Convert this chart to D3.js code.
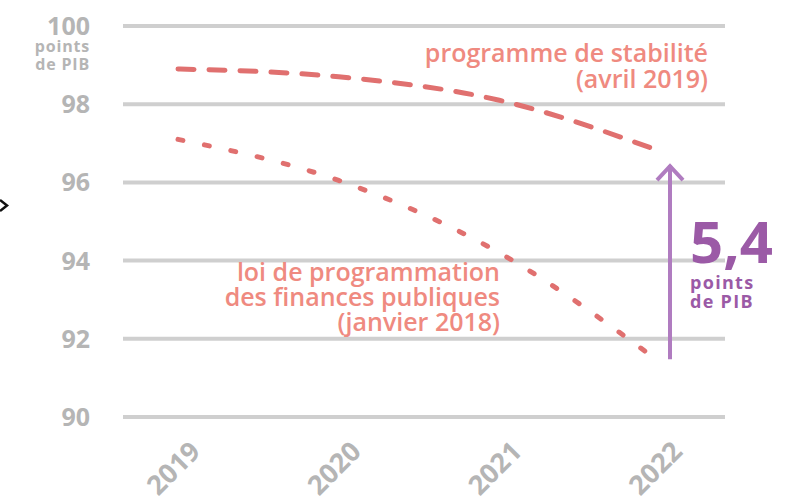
<!DOCTYPE html>
<html>
<head>
<meta charset="utf-8">
<script src="https://cdn.jsdelivr.net/npm/d3@7"></script>
<style>
  body { margin: 0; background: #fff; }
  svg { display: block; font-family: 'Open Sans', sans-serif; }
</style>
</head>
<body>
<div id="chart"></div>
<script>
// Data
const years = ['2019', '2020', '2021', '2022'];
const stabilite = [98.9, 98.7, 98.1, 96.8];   // programme de stabilité (avril 2019)
const lpfp = [97.1, 96.05, 94.2, 91.4];       // loi de programmation (janvier 2018)
const yTicks = [90, 92, 94, 96, 98, 100];

const width = 808, height = 497;

const svg = d3.select('#chart')
  .append('svg')
    .attr('width', width)
    .attr('height', height);

const x = d3.scalePoint()
  .domain(years)
  .range([178, 660]);

const y = d3.scaleLinear()
  .domain([90, 100])
  .range([417, 26]);

const grey = '#b5b5b5';

// grid lines
svg.append('g')
  .selectAll('line')
  .data(yTicks)
  .enter().append('line')
    .attr('x1', 123)
    .attr('x2', 725)
    .attr('y1', d => y(d))
    .attr('y2', d => y(d))
    .attr('stroke', '#cfcfcf')
    .attr('stroke-width', 4);

// y labels
svg.append('g')
  .selectAll('text')
  .data(yTicks)
  .enter().append('text')
    .attr('x', 90)
    .attr('y', d => y(d) + 9)
    .attr('text-anchor', 'end')
    .attr('font-size', 25)
    .attr('font-weight', 700)
    .attr('fill', grey)
    .text(d => d);

svg.append('text')
  .attr('x', 90).attr('y', 52)
  .attr('text-anchor', 'end')
  .attr('font-size', 16).attr('font-weight', 700)
  .attr('letter-spacing', 0.8)
  .attr('fill', grey)
  .text('points');
svg.append('text')
  .attr('x', 90).attr('y', 70)
  .attr('text-anchor', 'end')
  .attr('font-size', 16).attr('font-weight', 700)
  .attr('letter-spacing', 0.8)
  .attr('fill', grey)
  .text('de PIB');

// x labels
svg.append('g')
  .selectAll('text')
  .data(years)
  .enter().append('text')
    .attr('transform', d => 'translate(' + (x(d) + 24) + ',453) rotate(-45)')
    .attr('text-anchor', 'end')
    .attr('font-size', 27)
    .attr('font-weight', 700)
    .attr('fill', grey)
    .text(d => d);

// lines
const line = d3.line()
  .x((d, i) => x(years[i]))
  .y(d => y(d))
  .curve(d3.curveMonotoneX);

svg.append('path')
  .attr('d', line(stabilite))
  .attr('fill', 'none')
  .attr('stroke', '#e0706f')
  .attr('stroke-width', 5)
  .attr('stroke-linecap', 'round')
  .attr('stroke-dasharray', '16,15');

svg.append('path')
  .attr('d', line(lpfp))
  .attr('fill', 'none')
  .attr('stroke', '#e0706f')
  .attr('stroke-width', 5)
  .attr('stroke-linecap', 'round')
  .attr('stroke-dasharray', '5,22');

// series labels
const labelColor = '#ef8a80';
[['programme de stabilité', 62], ['(avril 2019)', 88]].forEach(function(t) {
  svg.append('text')
    .attr('x', 708).attr('y', t[1])
    .attr('text-anchor', 'end')
    .attr('font-size', 25).attr('font-weight', 600)
    .attr('fill', labelColor)
    .text(t[0]);
});
[['loi de programmation', 281], ['des finances publiques', 306], ['(janvier 2018)', 331]].forEach(function(t) {
  svg.append('text')
    .attr('x', 500).attr('y', t[1])
    .attr('text-anchor', 'end')
    .attr('font-size', 25).attr('font-weight', 600)
    .attr('fill', labelColor)
    .text(t[0]);
});

// gap arrow
const arrowX = x('2022') + 10;
const arrowColor = '#b07cc0';
const arrowTop = y(stabilite[3]) + 14;
svg.append('line')
  .attr('x1', arrowX).attr('x2', arrowX)
  .attr('y1', y(lpfp[3]) - 3)
  .attr('y2', arrowTop)
  .attr('stroke', arrowColor)
  .attr('stroke-width', 4);
svg.append('path')
  .attr('d', d3.line()([[arrowX - 13, arrowTop + 15], [arrowX, arrowTop + 1], [arrowX + 13, arrowTop + 15]]))
  .attr('fill', 'none')
  .attr('stroke', arrowColor)
  .attr('stroke-width', 4);

const gapColor = '#9b5aa6';
svg.append('text')
  .attr('x', 690).attr('y', 263)
  .attr('font-size', 58).attr('font-weight', 700)
  .attr('fill', gapColor)
  .text(d3.format('.1f')(stabilite[3] - lpfp[3]).replace('.', ','));
svg.append('text')
  .attr('x', 690).attr('y', 289)
  .attr('font-size', 18).attr('font-weight', 700)
  .attr('letter-spacing', 1.3)
  .attr('fill', gapColor)
  .text('points');
svg.append('text')
  .attr('x', 690).attr('y', 308)
  .attr('font-size', 18).attr('font-weight', 700)
  .attr('letter-spacing', 1.3)
  .attr('fill', gapColor)
  .text('de PIB');

// chevron on the left edge
svg.append('path')
  .attr('d', 'M0,200 L7,205.5 L0,211')
  .attr('fill', 'none')
  .attr('stroke', '#111')
  .attr('stroke-width', 2.5);
</script>
</body>
</html>
